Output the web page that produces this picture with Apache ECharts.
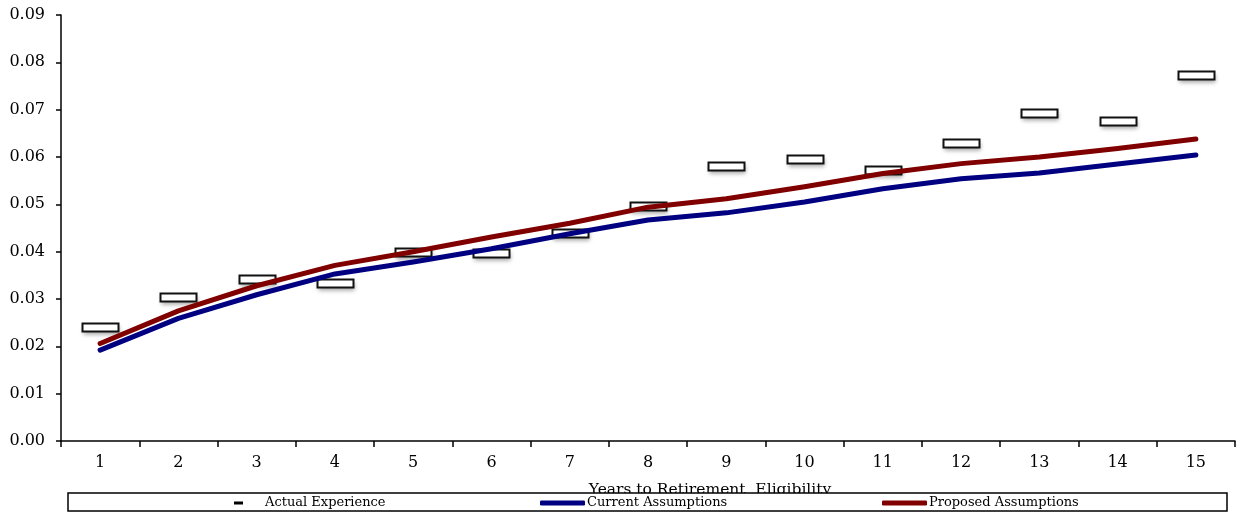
<!DOCTYPE html>
<html>
<head>
<meta charset="utf-8">
<script src="https://cdn.jsdelivr.net/npm/echarts@6/dist/echarts.min.js"></script>
<style>
html,body{margin:0;padding:0;background:#fff;}
#chart{width:1243px;height:514px;}
</style>
</head>
<body>
<div id="chart"></div>
<script>
const categories = ['1','2','3','4','5','6','7','8','9','10','11','12','13','14','15'];
const actualExperience = [0.0241, 0.0304, 0.0343, 0.0334, 0.0400, 0.0398, 0.0440, 0.0497, 0.0580, 0.0595, 0.0572, 0.0629, 0.0692, 0.0675, 0.0773];
const currentAssumptions = [0.0192, 0.0259, 0.0309, 0.0353, 0.0378, 0.0406, 0.0438, 0.0467, 0.0482, 0.0505, 0.0533, 0.0554, 0.0566, 0.0585, 0.0604];
const proposedAssumptions = [0.0206, 0.0275, 0.0328, 0.0371, 0.0400, 0.0431, 0.0460, 0.0494, 0.0512, 0.0537, 0.0565, 0.0586, 0.0600, 0.0618, 0.0638];
const xAxisName = 'Years to Retirement  Eligibility';
const seriesNames = ['Actual Experience', 'Current Assumptions', 'Proposed Assumptions'];

const FONT = 'DejaVu Serif';
const MARK_W = 36, MARK_H = 8;
const chart = echarts.init(document.getElementById('chart'), null, {renderer: 'canvas'});
chart.setOption({
  animation: false,
  backgroundColor: '#fff',
  grid: {left: 61, right: 8, top: 15, bottom: 73, containLabel: false},
  xAxis: {
    type: 'category',
    data: categories,
    boundaryGap: true,
    name: xAxisName,
    nameLocation: 'middle',
    nameGap: 41,
    nameTextStyle: {fontFamily: FONT, fontSize: 15.5, color: '#000', padding: [0, 0, 0, 124]},
    axisLine: {lineStyle: {color: '#000', width: 1.5}},
    axisTick: {show: true, interval: 0, length: 6, lineStyle: {color: '#000', width: 1.5}},
    axisLabel: {fontFamily: FONT, fontSize: 16, color: '#000', margin: 14, interval: 0},
    splitLine: {show: false}
  },
  yAxis: {
    type: 'value',
    min: 0,
    max: 0.09,
    interval: 0.01,
    axisLine: {show: true, lineStyle: {color: '#000', width: 1.5}},
    axisTick: {show: true, length: 5, lineStyle: {color: '#000', width: 1.5}},
    axisLabel: {fontFamily: FONT, fontSize: 16, color: '#000', margin: 16, formatter: v => v.toFixed(2)},
    splitLine: {show: false}
  },
  graphic: [{
    type: 'rect',
    z: 50,
    shape: {x: 68, y: 493, width: 1159, height: 18},
    style: {fill: '#fff', stroke: '#000', lineWidth: 1.5}
  }],
  legend: [
    {
      z: 60, left: 234, top: 495, padding: 0, itemGap: 0,
      itemWidth: 9, itemHeight: 3,
      textStyle: {fontFamily: FONT, fontSize: 13, color: '#000', lineHeight: 16, padding: [0, 0, 0, 17]},
      data: [{name: seriesNames[0], icon: 'rect', itemStyle: {color: '#000', borderWidth: 0, shadowBlur: 0, shadowOffsetX: 0, shadowOffsetY: 0}}]
    },
    {
      z: 60, left: 540, top: 495, padding: 0, itemGap: 0,
      itemWidth: 45, itemHeight: 5,
      textStyle: {fontFamily: FONT, fontSize: 13, color: '#000', lineHeight: 16, padding: [0, 0, 0, -3]},
      data: [{name: seriesNames[1], icon: 'roundRect'}]
    },
    {
      z: 60, left: 882, top: 495, padding: 0, itemGap: 0,
      itemWidth: 45, itemHeight: 5,
      textStyle: {fontFamily: FONT, fontSize: 13, color: '#000', lineHeight: 16, padding: [0, 0, 0, -3]},
      data: [{name: seriesNames[2], icon: 'roundRect'}]
    }
  ],
  series: [
    {
      name: seriesNames[0],
      type: 'custom',
      data: actualExperience.map((v, i) => [i, v]),
      encode: {x: 0, y: 1},
      z: 2,
      itemStyle: {color: '#000'},
      renderItem: function (params, api) {
        const p = api.coord([api.value(0), api.value(1)]);
        const x = Math.round(p[0] - MARK_W / 2) + 0.5;
        const y = Math.round(p[1] - MARK_H / 2) + 0.5;
        return {
          type: 'group',
          children: [
            {
              type: 'rect',
              shape: {x: x, y: y, width: MARK_W, height: MARK_H},
              style: {fill: '#fff', shadowColor: 'rgba(0,0,0,0.35)', shadowBlur: 4, shadowOffsetX: 1, shadowOffsetY: 3}
            },
            {
              type: 'rect',
              shape: {x: x, y: y, width: MARK_W, height: MARK_H},
              style: {fill: '#fff', stroke: '#111', lineWidth: 2}
            }
          ]
        };
      }
    },
    {
      name: seriesNames[1],
      type: 'line',
      data: currentAssumptions,
      showSymbol: false,
      symbol: 'none',
      z: 3,
      itemStyle: {color: '#000080'},
      lineStyle: {color: '#000080', width: 5, cap: 'round', join: 'round'}
    },
    {
      name: seriesNames[2],
      type: 'line',
      data: proposedAssumptions,
      showSymbol: false,
      symbol: 'none',
      z: 3,
      itemStyle: {color: '#800000'},
      lineStyle: {color: '#800000', width: 5, cap: 'round', join: 'round'}
    }
  ]
});
</script>
</body>
</html>
